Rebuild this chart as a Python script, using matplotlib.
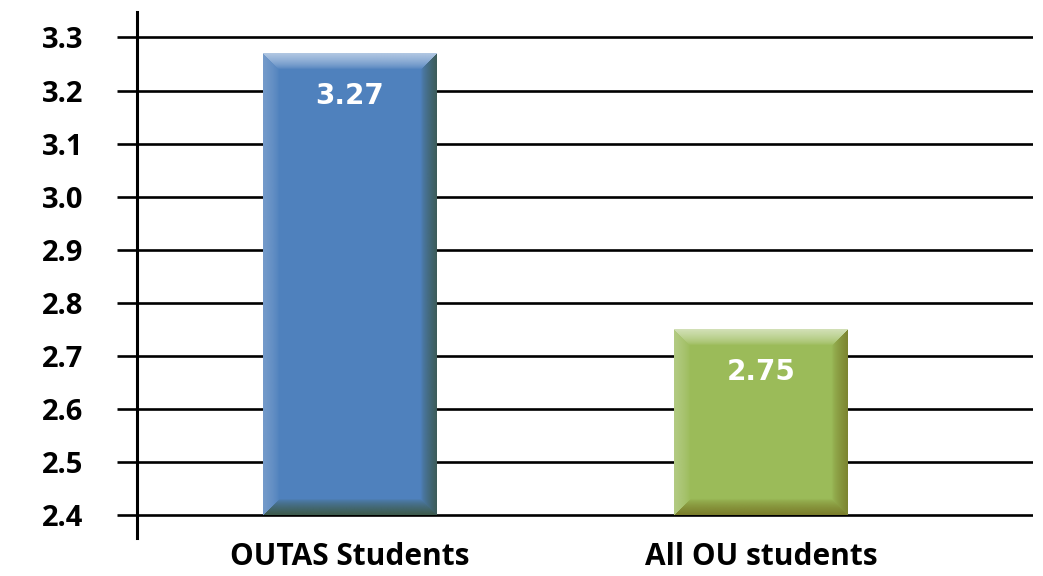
import matplotlib.pyplot as plt
import numpy as np
from matplotlib.colors import to_rgb

# data
categories = ['OUTAS Students', 'All OU students']
values = [3.27, 2.75]
value_labels = ['3.27', '2.75']
yticks = [2.4, 2.5, 2.6, 2.7, 2.8, 2.9, 3.0, 3.1, 3.2, 3.3]
base = 2.4

# styling
base_cols = ['#4F81BD', '#9BBB59']
bevel_cols = [  # top, left, right, bottom
    ['#B3C8E3', '#7FA2CE', '#3D5C58', '#3D5A4A'],
    ['#D3E1B8', '#B9CF8E', '#7C8430', '#7A7C2A'],
]

W, H, DPI = 1043, 576, 100
fig = plt.figure(figsize=(W / DPI, H / DPI), dpi=DPI)
ax = fig.add_axes([137 / W, 38 / H, (1033 - 137) / W, (538 - 12) / H])

x = np.arange(len(categories))
bw = 0.423
bars = ax.bar(x, [v - base for v in values], width=bw, bottom=base,
              color=base_cols, zorder=2)

ylo, yhi = 2.357, 3.348
xlo, xhi = -0.518, 1.662

# px per data unit, used for bevel size
px_x = (1033 - 137) / (xhi - xlo)
px_y = (538 - 12) / (yhi - ylo)


def bevel(ax, bar, cols, b=16):
    x0 = bar.get_x()
    x1 = x0 + bar.get_width()
    y0 = bar.get_y()
    y1 = y0 + bar.get_height()
    wpx = int((x1 - x0) * px_x)
    hpx = int((y1 - y0) * px_y)
    u = (np.arange(wpx) + 0.5)[None, :] * np.ones((hpx, 1))
    v = (np.arange(hpx) + 0.5)[:, None] * np.ones((1, wpx))
    d = np.stack([v, u, wpx - u, hpx - v])
    idx = np.argmin(d, axis=0)
    dmin = np.min(d, axis=0)
    strength = np.clip(1 - dmin / b, 0, 1) ** 0.7
    img = np.zeros((hpx, wpx, 4))
    for k, c in enumerate(cols):
        img[idx == k, :3] = to_rgb(c)
    img[..., 3] = strength * np.where(idx == 1, 0.8, 1.0)
    ax.imshow(img, extent=[x0, x1, y0, y1], origin='upper',
              aspect='auto', zorder=3, interpolation='bilinear')


for bar, cols in zip(bars, bevel_cols):
    bevel(ax, bar, cols)

ax.set_xlim(xlo, xhi)
ax.set_ylim(ylo, yhi)

for xi, v, lab in zip(x, values, value_labels):
    ax.text(xi, v - 0.081, lab, ha='center', va='center', color='white',
            fontsize=20, fontweight='heavy', family='DejaVu Sans', zorder=4)

ax.set_yticks(yticks)
ax.set_yticklabels([f'{t:.1f}' for t in yticks], fontsize=21,
                   fontweight='bold', family='Open Sans')
ax.set_xticks(x)
ax.set_xticklabels(categories, fontsize=21.5, fontweight='bold', family='Open Sans')

ax.yaxis.grid(True, color='black', linewidth=1.9)
ax.set_axisbelow(True)
ax.tick_params(axis='y', length=14.4, width=1.9, pad=24, color='black')
ax.tick_params(axis='x', length=0, pad=3)

for s in ['top', 'right', 'bottom']:
    ax.spines[s].set_visible(False)
ax.spines['left'].set_linewidth(2.2)
ax.spines['left'].set_zorder(5)

fig.savefig('out.png', dpi=DPI)
